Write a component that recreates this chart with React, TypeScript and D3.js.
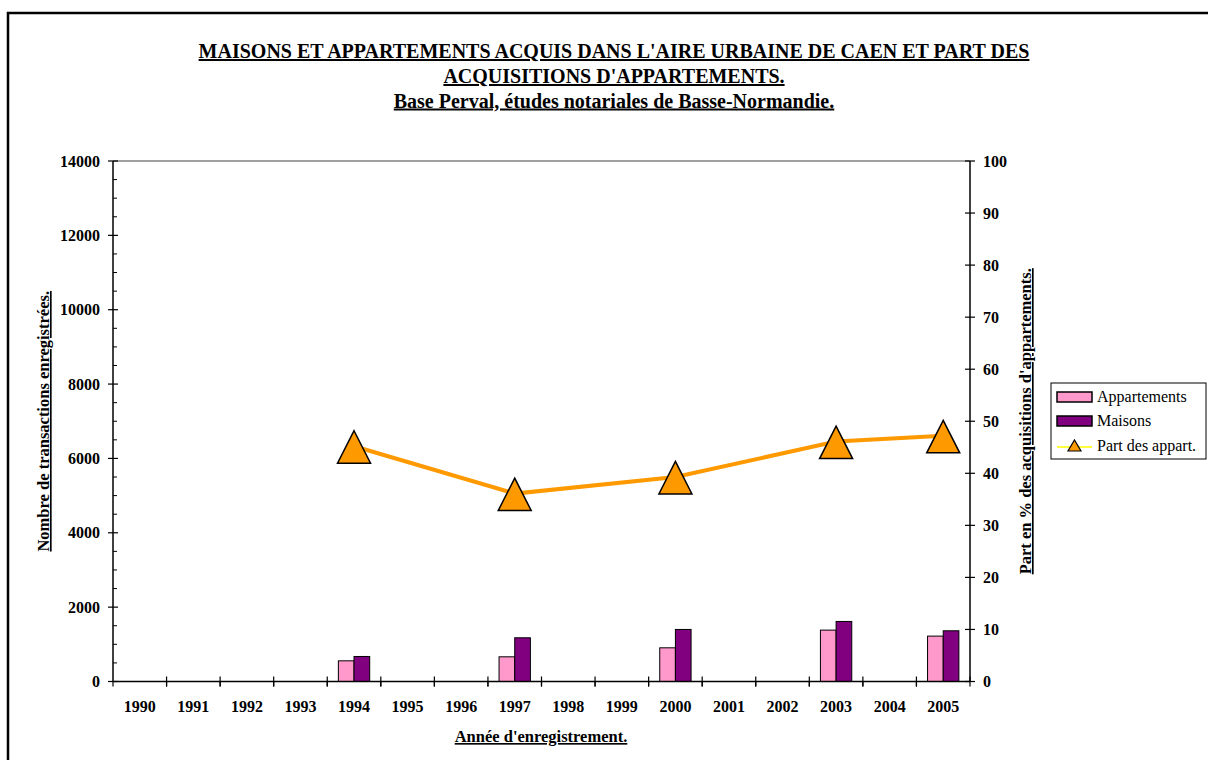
import React from "react";
import * as d3 from "d3";

const years = ["1990","1991","1992","1993","1994","1995","1996","1997","1998","1999","2000","2001","2002","2003","2004","2005"];
const dataYears = ["1994","1997","2000","2003","2005"];
const appartements = [556, 664, 906, 1382, 1221];
const maisons = [673, 1176, 1400, 1615, 1364];
const partAppart = [45.2, 36.1, 39.3, 46.1, 47.2];
const leftTicks = [0, 2000, 4000, 6000, 8000, 10000, 12000, 14000];
const rightTicks = [0, 10, 20, 30, 40, 50, 60, 70, 80, 90, 100];
const titleLines = [
  "MAISONS ET APPARTEMENTS ACQUIS DANS L'AIRE URBAINE DE CAEN ET PART DES",
  "ACQUISITIONS D'APPARTEMENTS.",
  "Base Perval, études notariales de Basse-Normandie.",
];
const seriesNames = ["Appartements", "Maisons", "Part des appart."];

const W = 1208, H = 760;
const L = 113, R = 970, T = 161, B = 681.5;
const FONT = "'Liberation Serif', 'Times New Roman', serif";
const PINK = "#FF99CC", PURPLE = "#800080", ORANGE = "#FF9900";

export default function App() {
  const x = d3.scaleBand<string>().domain(years).range([L, R]).padding(0);
  const yL = d3.scaleLinear().domain([0, 14000]).range([B, T]);
  const yR = d3.scaleLinear().domain([0, 100]).range([B, T]);
  const bw = x.bandwidth();
  const groupW = bw * 0.585;
  const inner = d3.scaleBand<number>().domain([0, 1]).range([0, groupW]).padding(0);
  const minor = d3.range(0, 14001, 500).filter((v) => v % 2000 !== 0);

  const pts = dataYears.map((yr, i) => [x(yr)! + bw / 2, yR(partAppart[i])] as [number, number]);
  const line = d3.line()(pts) || "";
  const tri = (cx: number, cy: number, w: number, h: number, up: number) =>
    `M${cx},${cy - up}L${cx + w / 2},${cy - up + h}L${cx - w / 2},${cy - up + h}Z`;
  const titleY = [58, 83, 107.5];

  return (
    <svg width={W} height={H} style={{ position: "absolute", left: 0, top: 0, background: "#fff" }} fontFamily={FONT}>
      <rect x={8} y={13} width={1220} height={800} fill="#fff" stroke="#000" strokeWidth={2.5} />
      {titleLines.map((t, i) => (
        <text key={i} x={614} y={titleY[i]} textAnchor="middle" fontSize={20} fontWeight="bold" textDecoration="underline">{t}</text>
      ))}
      {/* plot top border */}
      <line x1={L} x2={R} y1={T} y2={T} stroke="#808080" strokeWidth={1.5} />
      {/* bars */}
      {dataYears.map((yr, i) => {
        const gx = x(yr)! + (bw - groupW) / 2;
        return (
          <g key={yr}>
            <rect x={gx + inner(0)!} y={yL(appartements[i])} width={inner.bandwidth()} height={B - yL(appartements[i])} fill={PINK} stroke="#000" strokeWidth={1} />
            <rect x={gx + inner(1)!} y={yL(maisons[i])} width={inner.bandwidth()} height={B - yL(maisons[i])} fill={PURPLE} stroke="#000" strokeWidth={1} />
          </g>
        );
      })}
      {/* axes */}
      <line x1={L} x2={L} y1={T} y2={B} stroke="#000" strokeWidth={1.5} />
      <line x1={R} x2={R} y1={T} y2={B} stroke="#000" strokeWidth={1.5} />
      <line x1={L} x2={R} y1={B} y2={B} stroke="#000" strokeWidth={1.5} />
      {leftTicks.map((v) => (
        <g key={v}>
          <line x1={L - 5} x2={L + 5} y1={yL(v)} y2={yL(v)} stroke="#000" strokeWidth={1.2} />
          <text x={100} y={yL(v)} dy="0.35em" textAnchor="end" fontSize={16} fontWeight="bold">{v}</text>
        </g>
      ))}
      {minor.map((v) => (
        <line key={v} x1={L} x2={L + 4} y1={yL(v)} y2={yL(v)} stroke="#000" strokeWidth={1} />
      ))}
      {rightTicks.map((v) => (
        <g key={v}>
          <line x1={R - 5} x2={R + 5} y1={yR(v)} y2={yR(v)} stroke="#000" strokeWidth={1.2} />
          <text x={983} y={yR(v)} dy="0.37em" textAnchor="start" fontSize={16} fontWeight="bold">{v}</text>
        </g>
      ))}
      {years.map((yr) => (
        <g key={yr}>
          <line x1={x(yr)! + bw} x2={x(yr)! + bw} y1={B - 5} y2={B + 5} stroke="#000" strokeWidth={1.2} />
          <line x1={x(yr)!} x2={x(yr)!} y1={B} y2={B + 5} stroke="#000" strokeWidth={1.2} />
          <text x={x(yr)! + bw / 2} y={712} textAnchor="middle" fontSize={16} fontWeight="bold">{yr}</text>
        </g>
      ))}
      {/* line series */}
      <path d={line} fill="none" stroke={ORANGE} strokeWidth={4} />
      {pts.map(([cx, cy], i) => (
        <path key={i} d={tri(cx, cy, 33, 32.5, 15.5)} fill={ORANGE} stroke="#000" strokeWidth={1.5} />
      ))}
      {/* axis titles */}
      <text transform={`translate(49,${(T + B) / 2}) rotate(-90)`} textAnchor="middle" fontSize={16.5} fontWeight="bold" textDecoration="underline">Nombre de transactions enregistrées.</text>
      <text transform={`translate(1031,${(T + B) / 2}) rotate(-90)`} textAnchor="middle" fontSize={16.5} fontWeight="bold" textDecoration="underline">Part en % des acquisitions d'appartements.</text>
      <text x={541} y={742} textAnchor="middle" fontSize={16.5} fontWeight="bold" textDecoration="underline">Année d'enregistrement.</text>
      {/* legend */}
      <rect x={1051} y={383} width={155} height={76} fill="#fff" stroke="#000" strokeWidth={1} />
      <rect x={1057} y={392} width={35} height={10} fill={PINK} stroke="#000" strokeWidth={1.5} />
      <text x={1097} y={402} fontSize={16}>{seriesNames[0]}</text>
      <rect x={1057} y={416} width={35} height={10} fill={PURPLE} stroke="#000" strokeWidth={1.5} />
      <text x={1097} y={426} fontSize={16}>{seriesNames[1]}</text>
      <line x1={1057} x2={1092} y1={447} y2={447} stroke="#FFFF00" strokeWidth={1.5} />
      <path d={tri(1074.5, 446, 13, 11, 6)} fill={ORANGE} stroke="#000" strokeWidth={1.2} />
      <text x={1097} y={451} fontSize={16}>{seriesNames[2]}</text>
    </svg>
  );
}
